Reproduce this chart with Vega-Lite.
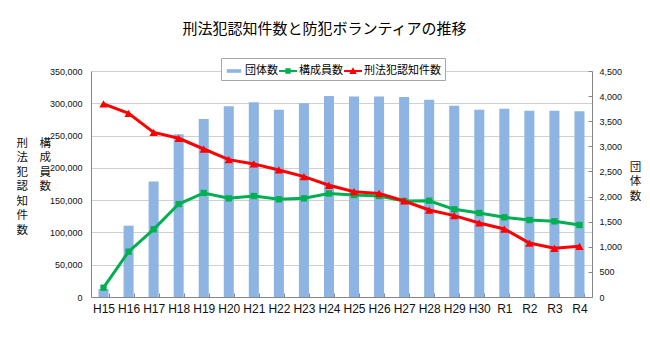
{
  "$schema": "https://vega.github.io/schema/vega-lite/v6.json",
  "width": 501,
  "height": 226,
  "autosize": {"type": "none"},
  "padding": {"left": 91, "top": 71, "right": 58, "bottom": 56},
  "background": "white",
  "title": {
    "text": "刑法犯認知件数と防犯ボランティアの推移",
    "font": "Noto Sans CJK JP",
    "fontSize": 15,
    "fontWeight": "normal",
    "color": "#000000",
    "anchor": "middle",
    "frame": "group",
    "dx": -17,
    "offset": 21
  },
  "config": {
    "view": {"stroke": null},
    "axis": {"domainColor": "#868686", "tickColor": "#868686", "gridColor": "#D0D0D0", "labelColor": "#111111", "titleColor": "#111111"},
    "legend": {
      "orient": "none",
      "legendX": 130,
      "legendY": -13,
      "direction": "horizontal",
      "padding": 4,
      "fillColor": "white",
      "strokeColor": "#A6A6A6",
      "symbolSize": 324,
      "symbolStrokeWidth": 0,
      "labelFont": "Noto Sans CJK JP",
      "labelFontSize": 11,
      "labelColor": "#000000",
      "labelOffset": 2,
      "columnPadding": 1
    }
  },
  "data": {
    "values": [
      {"year": "H15", "groups": 160, "members": 14400, "crimes": 299000},
      {"year": "H16", "groups": 1420, "members": 70200, "crimes": 284500},
      {"year": "H17", "groups": 2300, "members": 104800, "crimes": 255000},
      {"year": "H18", "groups": 3240, "members": 144000, "crimes": 245800},
      {"year": "H19", "groups": 3545, "members": 161100, "crimes": 229200},
      {"year": "H20", "groups": 3800, "members": 152800, "crimes": 212700},
      {"year": "H21", "groups": 3880, "members": 156400, "crimes": 206000},
      {"year": "H22", "groups": 3730, "members": 151300, "crimes": 196700},
      {"year": "H23", "groups": 3860, "members": 152800, "crimes": 186400},
      {"year": "H24", "groups": 4000, "members": 160300, "crimes": 173000},
      {"year": "H25", "groups": 3990, "members": 158000, "crimes": 163100},
      {"year": "H26", "groups": 3990, "members": 156400, "crimes": 160500},
      {"year": "H27", "groups": 3980, "members": 148700, "crimes": 148700},
      {"year": "H28", "groups": 3930, "members": 149100, "crimes": 134700},
      {"year": "H29", "groups": 3810, "members": 135800, "crimes": 126000},
      {"year": "H30", "groups": 3730, "members": 130100, "crimes": 114600},
      {"year": "R1", "groups": 3750, "members": 123400, "crimes": 105300},
      {"year": "R2", "groups": 3710, "members": 119200, "crimes": 83600},
      {"year": "R3", "groups": 3710, "members": 117200, "crimes": 75400},
      {"year": "R4", "groups": 3700, "members": 111500, "crimes": 78500}
    ]
  },
  "encoding": {
    "x": {
      "field": "year",
      "type": "nominal",
      "sort": null,
      "scale": {"paddingInner": 0.6, "paddingOuter": 0.3},
      "axis": {
        "title": null,
        "labelAngle": 0,
        "labelFont": "Liberation Sans",
        "labelFontSize": 12,
        "labelPadding": 10,
        "tickBand": "extent",
        "tickSize": -4,
        "grid": false
      }
    }
  },
  "layer": [
    {
      "mark": {"type": "bar", "color": "#8DB4E2"},
      "encoding": {
        "y": {
          "field": "groups",
          "type": "quantitative",
          "scale": {"domain": [0, 4500], "nice": false},
          "axis": {
            "orient": "right",
            "title": ["団", "体", "数"],
            "titleAngle": 0,
            "titleFont": "Noto Sans CJK JP",
            "titleFontSize": 11.5,
            "titleFontWeight": "normal",
            "titleLineHeight": 14.5,
            "titleAlign": "center",
            "titleBaseline": "top",
            "titleX": 43,
            "titleY": 90,
            "values": [0, 500, 1000, 1500, 2000, 2500, 3000, 3500, 4000, 4500],
            "format": ",d",
            "labelFont": "Liberation Sans",
            "labelFontSize": 9,
            "labelPadding": 11,
            "labelOverlap": false,
            "tickSize": -4,
            "grid": false
          }
        },
        "color": {
          "datum": "団体数",
          "scale": {"domain": ["団体数", "構成員数", "刑法犯認知件数"], "range": ["#8DB4E2", "#00B050", "#FF0000"]},
          "legend": {
            "title": null,
            "encode": {
              "symbols": {
                "update": {
                  "shape": {"signal": "datum.value === '団体数' ? 'M-0.8,-0.2H0.8V0.2H-0.8Z' : datum.value === '構成員数' ? 'M-1,-0.12H1V0.12H-1Z M-0.3,-0.3H0.3V0.3H-0.3Z' : 'M-1,-0.12H1V0.12H-1Z M0,-0.42L0.42,0.34H-0.42Z'"},
                  "fill": {"signal": "datum.value === '団体数' ? '#8DB4E2' : datum.value === '構成員数' ? '#00B050' : '#FF0000'"},
                  "stroke": {"value": "transparent"},
                  "opacity": {"value": 1}
                }
              }
            }
          }
        }
      }
    },
    {
      "layer": [
        {
          "mark": {"type": "line", "strokeWidth": 3, "point": {"shape": "square", "filled": true, "size": 40}},
          "encoding": {
            "y": {
              "field": "members",
              "type": "quantitative",
              "scale": {"domain": [0, 350000], "nice": false},
              "axis": {
                "orient": "left",
                "title": ["刑　構", "法　成", "犯　員", "認　数", "知", "件", "数"],
                "titleAngle": 0,
                "titleFont": "Noto Sans CJK JP",
                "titleFontSize": 11.5,
                "titleFontWeight": "normal",
                "titleLineHeight": 14.5,
                "titleAlign": "left",
                "titleBaseline": "top",
                "titleX": -75,
                "titleY": 66,
                "values": [0, 50000, 100000, 150000, 200000, 250000, 300000, 350000],
                "format": ",d",
                "labelFont": "Liberation Sans",
                "labelFontSize": 9,
                "labelPadding": 9,
                "labelOverlap": false,
                "labelFlush": false,
                "ticks": false,
                "grid": true
              }
            },
            "color": {"datum": "構成員数"}
          }
        },
        {
          "mark": {"type": "line", "strokeWidth": 3, "point": {"shape": "triangle-up", "filled": true, "size": 70}},
          "encoding": {
            "y": {
              "field": "crimes",
              "type": "quantitative",
              "scale": {"domain": [0, 350000], "nice": false},
              "axis": {
                "orient": "left",
                "title": ["刑　構", "法　成", "犯　員", "認　数", "知", "件", "数"],
                "titleAngle": 0,
                "titleFont": "Noto Sans CJK JP",
                "titleFontSize": 11.5,
                "titleFontWeight": "normal",
                "titleLineHeight": 14.5,
                "titleAlign": "left",
                "titleBaseline": "top",
                "titleX": -75,
                "titleY": 66,
                "values": [0, 50000, 100000, 150000, 200000, 250000, 300000, 350000],
                "format": ",d",
                "labelFont": "Liberation Sans",
                "labelFontSize": 9,
                "labelPadding": 9,
                "labelOverlap": false,
                "labelFlush": false,
                "ticks": false,
                "grid": true
              }
            },
            "color": {"datum": "刑法犯認知件数"}
          }
        }
      ]
    }
  ],
  "resolve": {"scale": {"y": "independent"}}
}
